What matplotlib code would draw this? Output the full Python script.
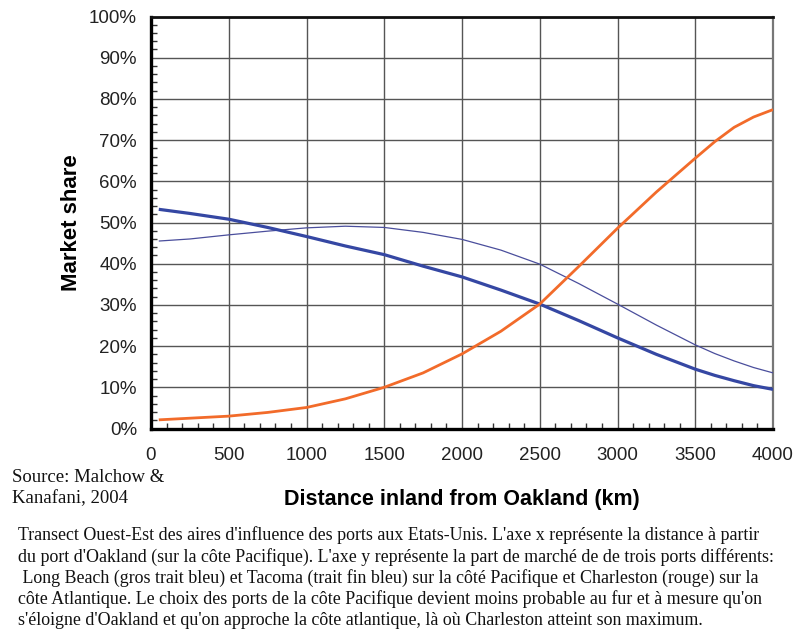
import matplotlib
matplotlib.use("Agg")
import matplotlib.pyplot as plt
from matplotlib.ticker import MultipleLocator, FuncFormatter

# Data
distance_km = [50, 250, 500, 750, 1000, 1250, 1500, 1750, 2000, 2250, 2500,
               2750, 3000, 3250, 3500, 3625, 3750, 3875, 4000]
long_beach = [53.2, 52.2, 50.8, 48.8, 46.6, 44.3, 42.2, 39.4, 36.8, 33.6, 30.2,
              26.2, 22.0, 18.0, 14.4, 12.9, 11.6, 10.4, 9.5]
tacoma = [45.5, 46.0, 47.0, 47.9, 48.7, 49.1, 48.8, 47.6, 45.9, 43.3, 39.9,
          35.2, 30.2, 25.1, 20.3, 18.2, 16.4, 14.8, 13.5]
charleston = [2.1, 2.5, 3.0, 3.9, 5.1, 7.2, 10.0, 13.5, 18.1, 23.6, 30.2,
              39.3, 48.6, 57.4, 65.6, 69.6, 73.1, 75.6, 77.4]

x_ticks = [0, 500, 1000, 1500, 2000, 2500, 3000, 3500, 4000]
y_ticks = [0, 10, 20, 30, 40, 50, 60, 70, 80, 90, 100]

caption = ("Transect Ouest-Est des aires d'influence des ports aux Etats-Unis. L'axe x représente la distance à partir\n"
           "du port d'Oakland (sur la côte Pacifique). L'axe y représente la part de marché de de trois ports différents:\n"
           " Long Beach (gros trait bleu) et Tacoma (trait fin bleu) sur la côté Pacifique et Charleston (rouge) sur la\n"
           "côte Atlantique. Le choix des ports de la côte Pacifique devient moins probable au fur et à mesure qu'on\n"
           "s'éloigne d'Oakland et qu'on approche la côte atlantique, là où Charleston atteint son maximum.")

plt.rcParams['font.family'] = ['Liberation Sans', 'DejaVu Sans']

fig = plt.figure(figsize=(7.93, 6.30), dpi=100)
ax = fig.add_axes([151 / 793, 1 - 428.5 / 630, (773 - 151) / 793, (428.5 - 16.5) / 630])

ax.plot(distance_km, tacoma, color='#4a4e9c', lw=0.9, zorder=3, solid_capstyle='butt')
ax.plot(distance_km, long_beach, color='#3547a3', lw=2.3, zorder=4, solid_capstyle='butt')
ax.plot(distance_km, charleston, color='#f26b2a', lw=2.0, zorder=4, solid_capstyle='butt')

ax.set_xlim(0, 4000)
ax.set_ylim(0, 100)
ax.set_xticks(x_ticks)
ax.set_yticks(y_ticks)
ax.xaxis.set_minor_locator(MultipleLocator(100))
ax.yaxis.set_minor_locator(MultipleLocator(2))
ax.yaxis.set_major_formatter(FuncFormatter(lambda v, p: f"{int(v)}%"))

ax.grid(True, which='major', color='#555555', lw=1.0, zorder=1)
ax.tick_params(which='major', length=0, labelsize=13.5, colors='#222222')
ax.tick_params(axis='y', which='major', pad=10)
ax.tick_params(axis='x', which='major', pad=13)
ax.tick_params(which='minor', direction='in', length=4, width=1, color='#333333')
ax.tick_params(axis='x', which='minor', top=False)
ax.tick_params(axis='y', which='minor', right=False)

for side in ['left', 'bottom']:
    ax.spines[side].set_linewidth(2.4)
    ax.spines[side].set_color('black')
ax.spines['top'].set_linewidth(2.0)
ax.spines['top'].set_color('#111111')
ax.spines['right'].set_linewidth(1.6)
ax.spines['right'].set_color('#777777')

ax.set_ylabel("Market share", fontsize=16, fontweight='bold', labelpad=5)
ax.set_xlabel("Distance inland from Oakland (km)", fontsize=15.5, fontweight='bold', labelpad=18)

fig.text(12 / 793, 1 - 488 / 630, "Source: Malchow &\nKanafani, 2004", family='Liberation Serif',
         fontsize=13.5, va='center', ha='left', linespacing=1.3, color='#111111')
fig.text(18 / 793, 1 - 577.5 / 630, caption, family='Liberation Serif', fontsize=12.9,
         va='center', ha='left', linespacing=1.25, color='#111111')

fig.savefig("out.png", dpi=100)
